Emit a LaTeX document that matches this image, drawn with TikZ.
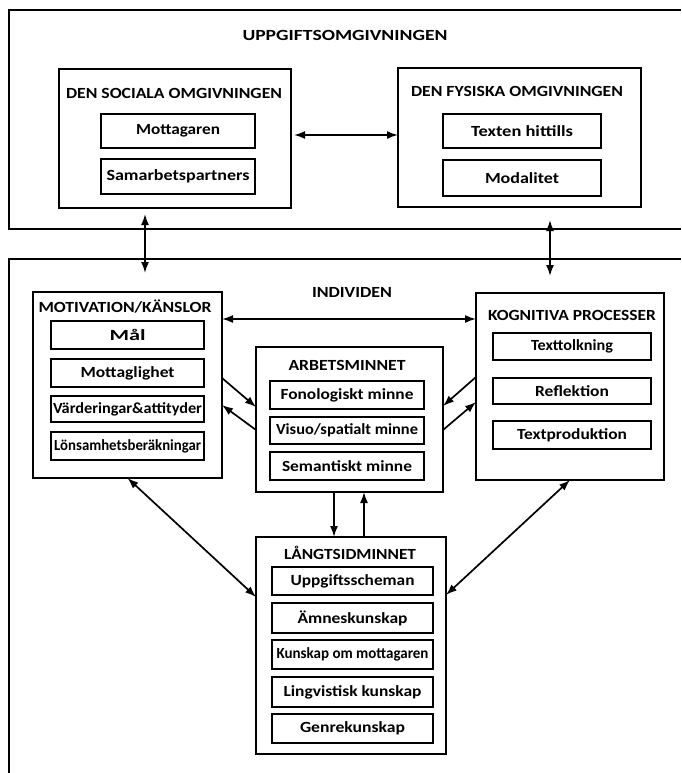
\documentclass[tikz,border=0pt]{standalone}
\usepackage{fontspec}
\setmainfont{Carlito}
\usetikzlibrary{fit,arrows.meta}
\newsavebox\lblbox
\newcommand\wtext[2]{\sbox\lblbox{#2}\pgfmathsetmacro\mysx{#1/\the\wd\lblbox}\scalebox{\mysx}[1]{\usebox\lblbox}}
\begin{document}
\begin{tikzpicture}[x=1pt,y=-1pt,
  box/.style={draw, line width=1.3pt, inner sep=0pt, outer sep=0pt},
  ibox/.style={draw, line width=1.3pt, inner sep=0pt, outer sep=0pt},
  lbl/.style={font=\fontsize{15.5}{17}\selectfont\bfseries, inner sep=0pt},
  head/.style={font=\fontsize{15.5}{17}\selectfont, inner sep=0pt},
  frame/.style={line width=1.8pt},
  dbl/.style={{Latex[length=11pt,width=8pt]}-{Latex[length=11pt,width=8pt]}, line width=1.7pt},
  one/.style={-{Latex[length=11pt,width=8pt]}, line width=1.7pt}]
\useasboundingbox (0,0) rectangle (681,773);
\fill[white] (0,0) rectangle (681,773);
% outer frames
\coordinate (t1) at (681,10);
\coordinate (t2) at (9,10);
\coordinate (t3) at (9,229);
\coordinate (t4) at (681,229);
\draw[frame] (t1) -- (t2) -- (t3) -- (t4);
\coordinate (b1) at (681,259);
\coordinate (b2) at (9,259);
\coordinate (b3) at (9,773);
\draw[frame] (b1) -- (b2) -- (b3);
\node[head] (uppg) at (345,35) {\wtext{205}{\textbf{UPPGIFTSOMGIVNINGEN}}};
\node[head] (indiv) at (352,292) {\wtext{80}{\textbf{INDIVIDEN}}};
% social
\node[box, fit={(59,69) (291,208)}] (soc) {};
\node[lbl] (socT) at (174,93) {\wtext{216}{DEN SOCIALA OMGIVNINGEN}};
\node[ibox, fit={(101,114) (255,148)}] (mott) {};
\node[lbl] (mottL) at (mott) {\wtext{84}{Mottagaren}};
\node[ibox, fit={(101,159) (255,194)}] (samp) {};
\node[lbl] (sampL) at (samp) {\wtext{143}{Samarbetspartners}};
% fysiska
\node[box, fit={(398,68) (641,207)}] (fys) {};
\node[lbl] (fysT) at (517,91) {\wtext{212}{DEN FYSISKA OMGIVNINGEN}};
\node[ibox, fit={(443,114) (601,148)}] (text) {};
\node[lbl] (textL) at (text) {\wtext{102}{Texten hittills}};
\node[ibox, fit={(443,160) (601,196)}] (moda) {};
\node[lbl] (modaL) at (moda) {\wtext{74}{Modalitet}};
% motivation
\node[box, fit={(33,292) (222,478)}] (mot) {};
\node[lbl] (motT) at (125,307) {\wtext{173}{MOTIVATION/KÄNSLOR}};
\node[ibox, fit={(51,321) (204,349)}] (mal) {};
\node[lbl] (malL) at (mal) {\wtext{36}{Mål}};
\node[ibox, fit={(51,359) (204,387)}] (mtgl) {};
\node[lbl] (mtglL) at (mtgl) {\wtext{94}{Mottaglighet}};
\node[ibox, fit={(51,396) (204,422)}] (vard) {};
\node[lbl] (vardL) at (vard) {\wtext{149}{Värderingar\&attityder}};
\node[ibox, fit={(51,432) (204,460)}] (lons) {};
\node[lbl] (lonsL) at (lons) {\wtext{147}{Lönsamhetsberäkningar}};
% arbetsminnet
\node[box, fit={(256,347) (443,492)}] (arb) {};
\node[lbl] (arbT) at (347,365) {\wtext{117}{ARBETSMINNET}};
\node[ibox, fit={(270,381) (424,409)}] (fono) {};
\node[lbl] (fonoL) at (fono) {\wtext{133}{Fonologiskt minne}};
\node[ibox, fit={(270,417) (424,444)}] (visu) {};
\node[lbl] (visuL) at (visu) {\wtext{142}{Visuo/spatialt minne}};
\node[ibox, fit={(270,452) (424,480)}] (sema) {};
\node[lbl] (semaL) at (sema) {\wtext{130}{Semantiskt minne}};
% kognitiva
\node[box, fit={(476,293) (664,480)}] (kog) {};
\node[lbl] (kogT) at (572,315) {\wtext{168}{KOGNITIVA PROCESSER}};
\node[ibox, fit={(493,333) (651,360)}] (ttolk) {};
\node[lbl] (ttolkL) at (ttolk) {\wtext{82}{Texttolkning}};
\node[ibox, fit={(493,378) (651,404)}] (refl) {};
\node[lbl] (reflL) at (refl) {\wtext{74}{Reflektion}};
\node[ibox, fit={(493,421) (651,449)}] (tprod) {};
\node[lbl] (tprodL) at (tprod) {\wtext{110}{Textproduktion}};
% langtidsminnet
\node[box, fit={(256,537) (446,754)}] (lang) {};
\node[lbl] (langT) at (350,553) {\wtext{132}{LÅNGTSIDMINNET}};
\node[ibox, fit={(272,567) (433,595)}] (uppsch) {};
\node[lbl] (uppschL) at (uppsch) {\wtext{124}{Uppgiftsscheman}};
\node[ibox, fit={(272,603) (433,633)}] (amne) {};
\node[lbl] (amneL) at (amne) {\wtext{110}{Ämneskunskap}};
\node[ibox, fit={(272,640) (433,669)}] (kmott) {};
\node[lbl] (kmottL) at (kmott) {\wtext{152}{Kunskap om mottagaren}};
\node[ibox, fit={(272,677) (433,707)}] (ling) {};
\node[lbl] (lingL) at (ling) {\wtext{138}{Lingvistisk kunskap}};
\node[ibox, fit={(272,714) (433,743)}] (genre) {};
\node[lbl] (genreL) at (genre) {\wtext{105}{Genrekunskap}};
% connectors
\draw[dbl] ([xshift=3pt]soc.east |- 0,135) -- (fys.west |- 0,135);
\coordinate (v1a) at (145,214);
\coordinate (v1b) at (145,273);
\coordinate (v2a) at (550,220);
\coordinate (v2b) at (550,276);
\draw[dbl] (v1a) -- (v1b);
\draw[dbl] (v2a) -- (v2b);
\draw[dbl] (mot.east |- 0,319) -- (kog.west |- 0,319);
\draw[one] (mot.east |- 0,378) -- (arb.west |- 0,407);
\draw[one] (arb.west |- 0,430) -- (mot.east |- 0,405);
\draw[one] (kog.west |- 0,377) -- (arb.east |- 0,406);
\draw[one] (arb.east |- 0,430) -- (kog.west |- 0,402);
\draw[one] (arb.south -| 334,0) -- (lang.north -| 334,0);
\draw[one] (lang.north -| 364,0) -- (arb.south -| 364,0);
\draw[dbl] (mot.south) -- (lang.west |- 0,597);
\draw[dbl] (kog.south) -- (lang.east |- 0,595);
\end{tikzpicture}
\end{document}
